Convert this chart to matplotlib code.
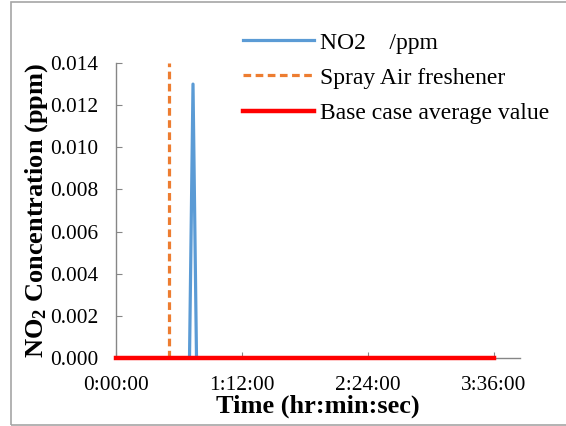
import matplotlib

matplotlib.use("Agg")
import matplotlib.pyplot as plt
from matplotlib.patches import Rectangle

# time in minutes since start
no2_time = [0, 20, 40, 42, 44, 46, 48, 100, 160, 216]
no2_ppm = [0, 0, 0, 0, 0.013, 0, 0, 0, 0, 0]
spray_time = [30, 30]
spray_ppm = [0, 0.014]
base_time = [0, 216]
base_ppm = [0, 0]
xticks_min = [0, 72, 144, 216]
yticks = [0.000, 0.002, 0.004, 0.006, 0.008, 0.010, 0.012, 0.014]


def _hms(m):
    m = int(round(m))
    return f"{m // 60}:{m % 60:02d}:00"


plt.rcParams["font.family"] = ["Liberation Serif", "DejaVu Serif"]
plt.rcParams["mathtext.fontset"] = "custom"
plt.rcParams["mathtext.rm"] = "Liberation Serif"
plt.rcParams["mathtext.bf"] = "Liberation Serif:bold"

fig = plt.figure(figsize=(5.66, 4.26), dpi=100)
ax = fig.add_axes([0.205, 0.160, 0.714, 0.692])

ax.plot(no2_time, no2_ppm, color="#5b9bd5", linewidth=2.3, label="NO2    /ppm", zorder=3)
ax.plot(spray_time, spray_ppm, color="#ed7d31", linewidth=2.3, linestyle=(0, (2.4, 1.4)),
        label="Spray Air freshener", zorder=2)
ax.plot(base_time, base_ppm, color="#ff0000", linewidth=3.2, label="Base case average value",
        zorder=4, clip_on=False)

ax.set_xlim(0, 231)
ax.set_ylim(0, 0.014)
ax.set_xticks(xticks_min)
ax.set_xticklabels([_hms(m) for m in xticks_min])
ax.set_yticks(yticks)
ax.set_yticklabels([f"{v:.3f}" for v in yticks])
ax.tick_params(direction="in", length=4, color="#868686", labelsize=15.4)
ax.tick_params(axis="x", pad=13)
ax.tick_params(axis="y", pad=13)

for side in ("top", "right"):
    ax.spines[side].set_visible(False)
for side in ("left", "bottom"):
    ax.spines[side].set_color("#868686")
    ax.spines[side].set_linewidth(1.0)

ax.set_xlabel("Time (hr:min:sec)", fontsize=19, fontweight="bold", labelpad=0)
ax.set_ylabel(r"$\mathbf{NO_2}$ Concentration (ppm)", fontsize=19, fontweight="bold", labelpad=0)

ax.legend(loc="upper left", bbox_to_anchor=(243 / 566, 1 - 32 / 426), bbox_transform=fig.transFigure,
          frameon=False, fontsize=17, handlelength=3.0, labelspacing=0.58, handletextpad=0.25,
          borderaxespad=0, borderpad=0)

fig.patches.append(Rectangle((11 / 566, 1 / 426), 1.2, 1 - 3 / 426, transform=fig.transFigure,
                             fill=False, edgecolor="#a6a6a6", linewidth=1.2))

fig.savefig("out.png", dpi=100)
plt.close(fig)
